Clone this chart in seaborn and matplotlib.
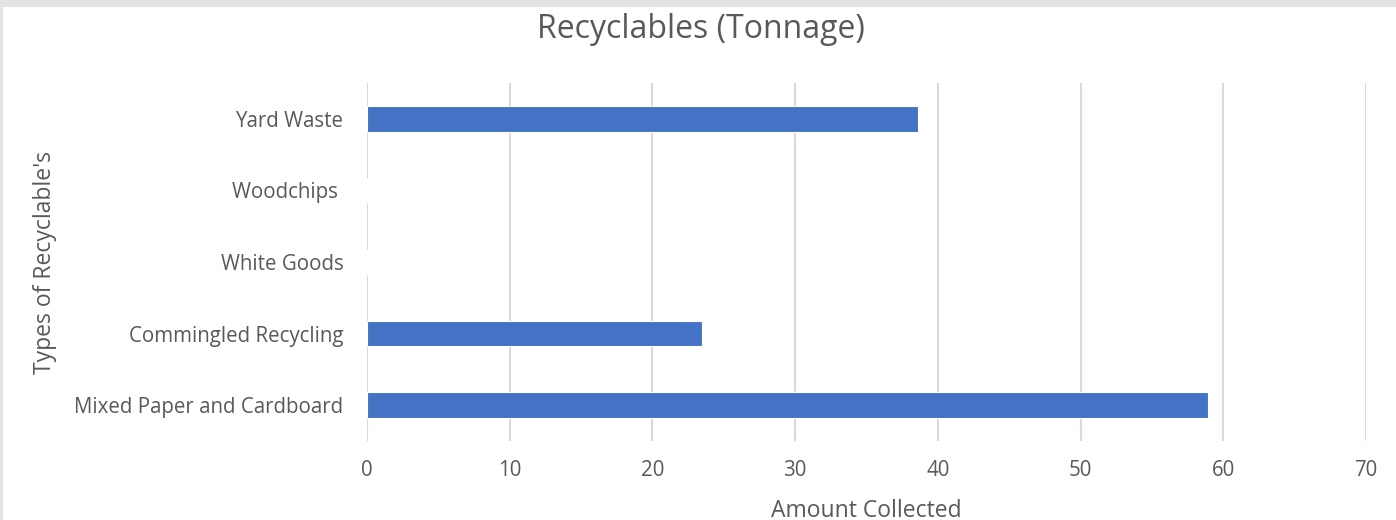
import matplotlib
matplotlib.use("Agg")
import matplotlib.pyplot as plt
import seaborn as sns
import pandas as pd
from matplotlib.patches import Rectangle

# data
categories = ["Yard Waste", "Woodchips ", "White Goods", "Commingled Recycling", "Mixed Paper and Cardboard"]
tonnage = [38.6, 0, 0, 23.5, 58.9]
x_ticks = [0, 10, 20, 30, 40, 50, 60, 70]

df = pd.DataFrame({"type": categories, "amount": tonnage})

sns.set_theme(style="white")
plt.rcParams["font.family"] = ["Open Sans", "DejaVu Sans"]
text_color = "#595959"

fig = plt.figure(figsize=(13.96, 5.2), dpi=100)
fig.patch.set_facecolor("#e3e3e3")
# white chart area inside the grey frame
fig.patches.append(Rectangle((3 / 1396, 0), 1, 1 - 7 / 520, transform=fig.transFigure,
                             facecolor="white", edgecolor="none", zorder=-5))

ax = fig.add_axes([367 / 1396, 79 / 520, 999 / 1396, 358 / 520])
ax.set_zorder(2)
ax.set_facecolor("none")

sns.barplot(data=df, x="amount", y="type", order=categories, orient="h",
            color="#4472C4", saturation=1, width=0.36, edgecolor="white",
            linewidth=0.8, ax=ax, zorder=3)

ax.set_xlim(0, 70)
ax.set_xticks(x_ticks)
ax.set_ylim(4.5, -0.5)
ax.grid(axis="x", color="#d9d9d9", linewidth=1.5, zorder=0)
ax.set_axisbelow(True)
for s in ax.spines.values():
    s.set_visible(False)
ax.tick_params(axis="both", length=0, labelsize=14.8, colors=text_color)
ax.tick_params(axis="x", pad=14)
ax.tick_params(axis="y", pad=17)

ax.set_xlabel("Amount Collected", fontsize=16.5, color=text_color)
ax.xaxis.label.set_va("center")
ax.xaxis.set_label_coords(0.5, -0.195)
ax.set_ylabel("Types of Recyclable's", fontsize=16.5, color=text_color)
ax.yaxis.label.set_va("center")
ax.yaxis.set_label_coords(-0.322, 0.5)
fig.text(0.502, 1 - 29 / 520, "Recyclables (Tonnage)", ha="center", va="center",
         fontsize=23, color=text_color)

fig.savefig("out.png", dpi=100, facecolor=fig.get_facecolor())
